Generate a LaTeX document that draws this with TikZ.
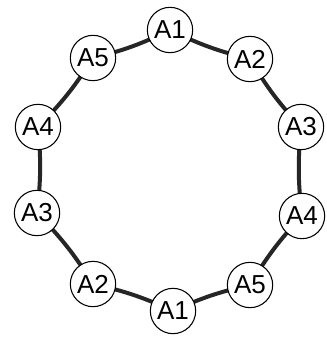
\documentclass[tikz,border=0pt]{standalone}
\usepackage{fontspec}
\setsansfont{Liberation Sans}
\usepackage{tikz}
\usetikzlibrary{positioning}
\tikzset{
    ringnode/.style={
        circle,
        draw=black,
        line width=0.8pt,
        fill=white,
        minimum size=34pt,
        inner sep=0pt,
        font=\sffamily\fontsize{19.5}{19.5}\selectfont
    },
    ringedge/.style={
        line width=3pt,
        black!85,
        bend right=6
    }
}
\begin{document}
\begin{tikzpicture}[x=0.75pt,y=-0.75pt]
    \useasboundingbox (0,0) rectangle (327,338);

    % ring coordinates
    \path
     (170,30)  coordinate (u1)
     (250,59)  coordinate (u2)
     (301,127) coordinate (u3)
     (302,216) coordinate (u4)
     (250,285) coordinate (u5)
     (173,311) coordinate (u6)
     (93,284)  coordinate (u7)
     (37,213)  coordinate (u8)
     (38,127)  coordinate (u9)
     (93,58)   coordinate (u10)
     ;

    % edges first, nodes on top
    \draw[ringedge] (u1) to (u2);
    \draw[ringedge] (u2) to (u3);
    \draw[ringedge] (u3) to (u4);
    \draw[ringedge] (u4) to (u5);
    \draw[ringedge] (u5) to (u6);
    \draw[ringedge] (u6) to (u7);
    \draw[ringedge] (u7) to (u8);
    \draw[ringedge] (u8) to (u9);
    \draw[ringedge] (u9) to (u10);
    \draw[ringedge] (u10) to (u1);

    % nodes
    \node[ringnode] (a1top)   at (u1)  {A1};
    \node[ringnode] (a2top)   at (u2)  {A2};
    \node[ringnode] (a3right) at (u3)  {A3};
    \node[ringnode] (a4right) at (u4)  {A4};
    \node[ringnode] (a5bot)   at (u5)  {A5};
    \node[ringnode] (a1bot)   at (u6)  {A1};
    \node[ringnode] (a2bot)   at (u7)  {A2};
    \node[ringnode] (a3left)  at (u8)  {A3};
    \node[ringnode] (a4left)  at (u9)  {A4};
    \node[ringnode] (a5top)   at (u10) {A5};
\end{tikzpicture}
\end{document}
